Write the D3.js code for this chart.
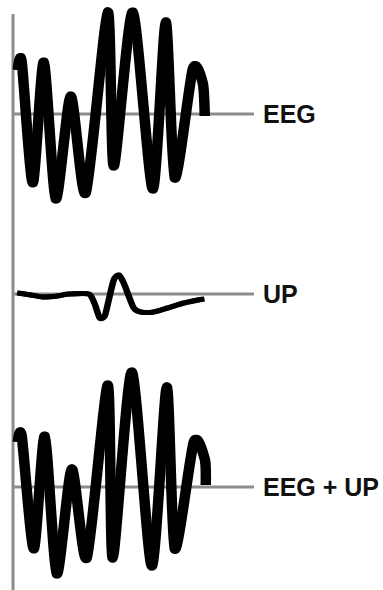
<!DOCTYPE html>
<html lang="en">
<head>
    <meta charset="utf-8">
    <title>EEG, UP and EEG + UP traces</title>
    <script type="text/javascript" src="https://cdn.jsdelivr.net/npm/d3@7"></script>
    <style type="text/css">
        body { margin: 0; background: #fff; }
        text { font-family: "Liberation Sans", Arial, sans-serif; font-weight: bold; }
    </style>
</head>
<body>
    <script type="text/javascript">

        //Width and height
        var w = 383;
        var h = 590;

        //Trace names, in order top to bottom
        var labels = ["EEG", "UP", "EEG + UP"];

        //EEG trace (time in ms, amplitude)
        var eegTime = [4, 8, 19, 30, 42, 57, 72, 94, 100, 119, 139, 152, 161, 179, 189, 191];
        var eegValue = [44, 52, -69, 52, -85, 18, -79, 102, -52, 102, -75, 92, -64, 45, 31, -2];

        //UP trace
        var upTime = [4, 17, 29, 44, 55, 75, 81, 86, 91, 95, 100, 105, 110, 115, 120, 127, 140, 154, 170, 190];
        var upValue = [1, -1, -3, -2, 0, 0, -10, -24, -22, -6, 14, 19, 11, -2, -14, -18, -18, -14, -9, -5];

        //EEG + UP trace
        var sumTime = [4, 8, 20, 31, 43, 58, 73, 94, 99, 118, 138, 153, 161, 180, 191, 192];
        var sumValue = [45, 51, -62, 51, -87, 18, -71, 102, -71, 115, -79, 100, -62, 45, 28, 2];

        var traces = [
            { name: labels[0], t: eegTime, v: eegValue, base: 114, width: 9 },
            { name: labels[1], t: upTime, v: upValue, base: 294, width: 5 },
            { name: labels[2], t: sumTime, v: sumValue, base: 487, width: 9 }
        ];

        //Shared time scale
        var x = d3.scaleLinear()
            .domain([0, 240])
            .range([13, 253]);

        //Amplitude scale, relative to each trace's baseline
        var y = d3.scaleLinear()
            .domain([-100, 100])
            .range([100, -100]);

        //Create SVG element
        var svg = d3.select("body")
            .append("svg")
            .attr("width", w)
            .attr("height", h);

        //Vertical axis line
        svg.append("line")
            .attr("x1", x(0)).attr("x2", x(0))
            .attr("y1", 14).attr("y2", h)
            .style("stroke", "#8c8c8c")
            .style("stroke-width", 3);

        var line = d3.line()
            .x(function (d) { return x(d[0]); })
            .y(function (d) { return y(d[1]); })
            .curve(d3.curveCardinal.tension(0.3));

        var g = svg.selectAll("g.trace")
            .data(traces)
            .enter()
            .append("g")
            .attr("class", "trace")
            .attr("transform", function (d) { return "translate(0," + d.base + ")"; });

        //Baselines
        g.append("line")
            .attr("x1", x(0)).attr("x2", x(241))
            .attr("y1", 0).attr("y2", 0)
            .style("stroke", "#8c8c8c")
            .style("stroke-width", 3);

        //Traces: a thick pen plus a slightly shifted copy for the heavier flanks
        [0, 1.5].forEach(function (dx) {
            g.append("path")
                .attr("transform", "translate(" + dx + ",0)")
                .attr("d", function (d) { return line(d3.zip(d.t, d.v)); })
                .style("fill", "none")
                .style("stroke", "#000")
                .style("stroke-width", function (d) { return d.width; })
                .style("stroke-linejoin", "round")
                .style("stroke-linecap", "butt");
        });

        //Labels
        g.append("text")
            .attr("x", 263)
            .attr("y", 9)
            .style("font-size", "25px")
            .style("fill", "#111")
            .text(function (d) { return d.name; });

    </script>
</body>
</html>
